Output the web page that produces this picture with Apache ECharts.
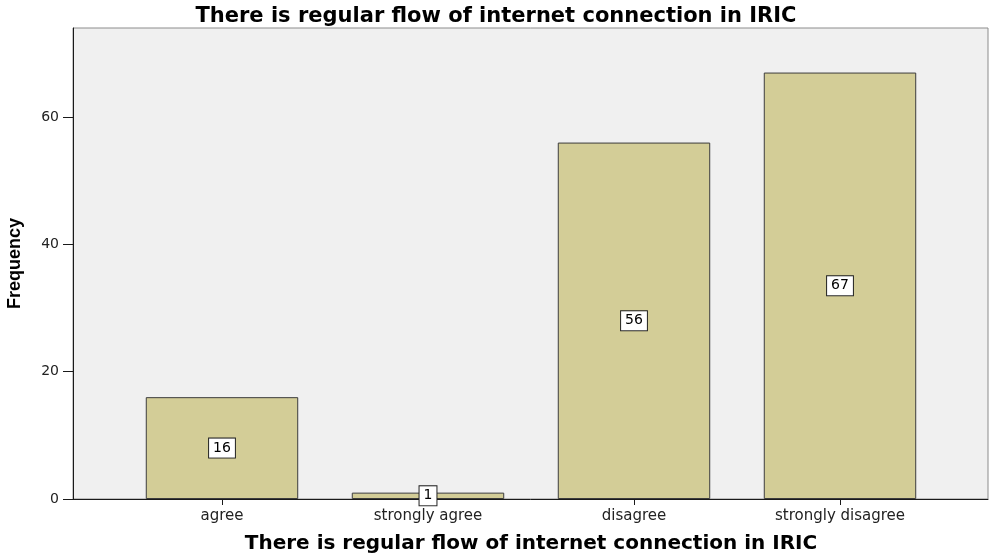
<!DOCTYPE html>
<html>
<head>
<meta charset="utf-8">
<script src="https://cdn.jsdelivr.net/npm/echarts@6/dist/echarts.min.js"></script>
<style>
  html, body { margin: 0; padding: 0; background: #ffffff; }
  #chart { width: 990px; height: 553px; }
</style>
</head>
<body>
<div id="chart"></div>
<script>
// Survey responses: "There is regular flow of internet connection in IRIC"
const categories = ['agree', 'strongly agree', 'disagree', 'strongly disagree'];
const frequencies = [16, 1, 56, 67];
const yTicks = [0, 20, 40, 60];
const chartTitle = 'There is regular flow of internet connection in IRIC';
const yAxisTitle = 'Frequency';

const yMax = 74;
const chart = echarts.init(document.getElementById('chart'));

chart.setOption({
  animation: false,
  backgroundColor: '#ffffff',
  title: {
    text: chartTitle,
    left: 491,
    textAlign: 'center',
    top: 1,
    textStyle: { fontFamily: 'DejaVu Sans', fontWeight: 'bold', fontSize: 21, color: '#000' }
  },
  grid: [
    // frame with the shaded plot area
    { left: 73, right: 2, top: 28, bottom: 54, show: true, backgroundColor: '#f0f0f0',
      borderColor: '#8c8c8c', borderWidth: 1, outerBoundsMode: 'none', containLabel: false },
    // band area that holds the bars
    { left: 119, right: 47, top: 28, bottom: 54, outerBoundsMode: 'none', containLabel: false }
  ],
  xAxis: [
    { gridIndex: 0, type: 'value', min: 0, max: 1,
      axisLine: { show: true, lineStyle: { color: '#1a1a1a', width: 1 } },
      axisTick: { show: false }, axisLabel: { show: false }, splitLine: { show: false } },
    { gridIndex: 1, type: 'category', data: categories,
      axisLine: { show: false },
      axisTick: { show: true, alignWithLabel: true, length: 6, lineStyle: { color: '#1a1a1a' } },
      axisLabel: { margin: 10, fontFamily: 'DejaVu Sans', fontSize: 15, color: '#222' },
      name: chartTitle, nameLocation: 'middle', nameGap: 35,
      nameTextStyle: { fontFamily: 'DejaVu Sans', fontWeight: 'bold', fontSize: 20, color: '#000' } }
  ],
  yAxis: [
    { gridIndex: 0, type: 'value', min: 0, max: yMax,
      axisLine: { show: true, lineStyle: { color: '#1a1a1a', width: 1 } },
      axisTick: { show: true, length: 10, customValues: yTicks, lineStyle: { color: '#1a1a1a' } },
      axisLabel: { margin: 14, customValues: yTicks, fontFamily: 'DejaVu Sans', fontSize: 14, color: '#222' },
      splitLine: { show: false },
      name: yAxisTitle, nameLocation: 'middle', nameGap: 49,
      nameTextStyle: { fontFamily: 'Liberation Sans', fontWeight: 'bold', fontSize: 18, color: '#000' } },
    { gridIndex: 1, type: 'value', min: 0, max: yMax, show: false }
  ],
  series: [{
    type: 'bar',
    xAxisIndex: 1,
    yAxisIndex: 1,
    data: frequencies,
    barWidth: '74%',
    itemStyle: { color: '#d3cd97', borderColor: '#3c3c3c', borderWidth: 1 },
    label: {
      show: true,
      position: 'inside',
      color: '#000',
      fontFamily: 'DejaVu Sans',
      fontSize: 14,
      backgroundColor: '#ffffff',
      borderColor: '#222',
      borderWidth: 1,
      padding: [3, 4, 2, 4]
    }
  }]
});
</script>
</body>
</html>
